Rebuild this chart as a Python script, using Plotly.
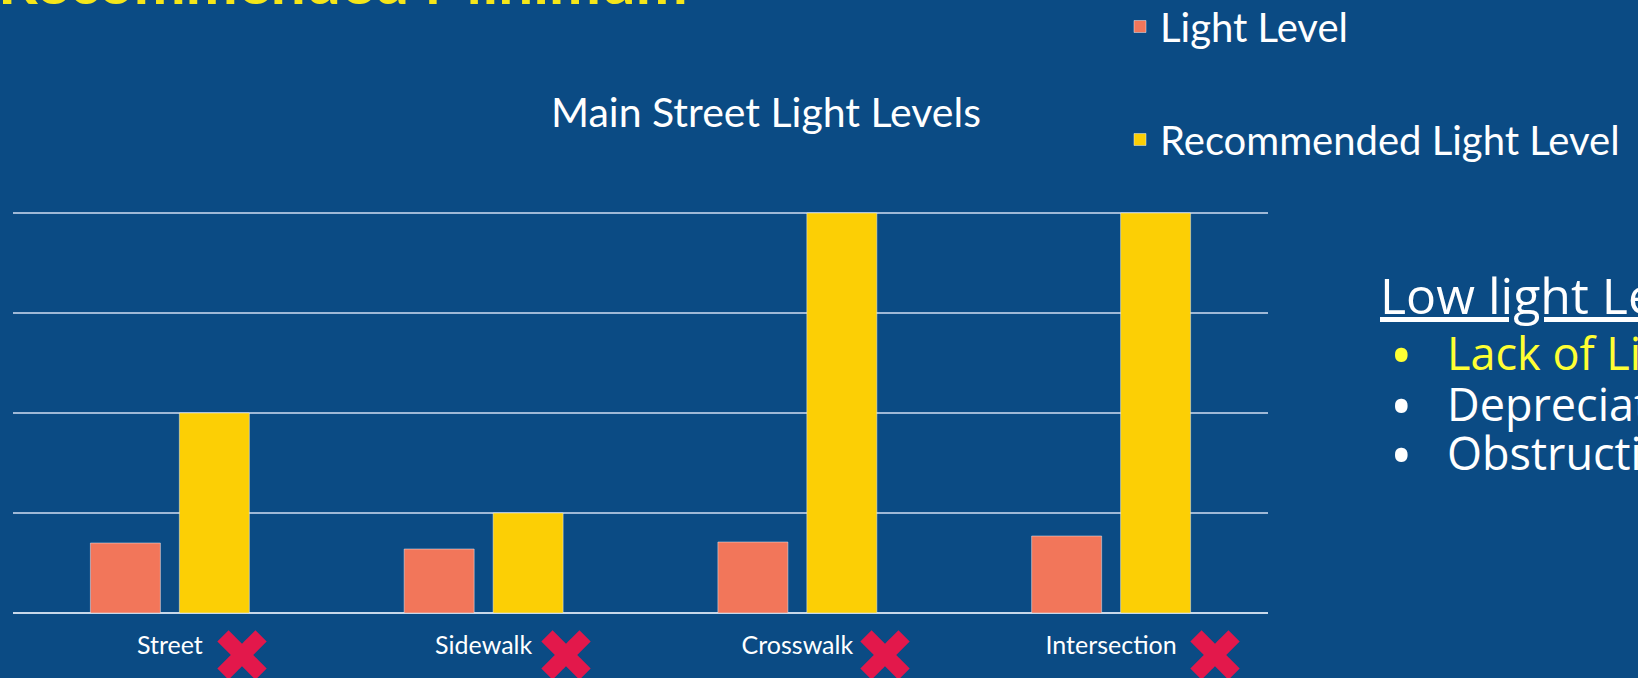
import plotly.graph_objects as go

### data (one grid step = 1 unit)
categories = ["Street", "Sidewalk", "Crosswalk", "Intersection"]
light_level = [0.70, 0.64, 0.71, 0.77]
recommended_level = [2.0, 1.0, 4.0, 4.0]

### styling helpers
bg = "#0b4b84"
font_family = "Lato, Calibri, 'Open Sans', sans-serif"
side_family = "'Open Sans', Lato, sans-serif"
white = "#ffffff"
yellow_txt = "#ffff33"

# plot area in pixels: x 13..1268, y 211..613 (top grid line at 213)
PX_L, PX_W, PX_B, PX_H = 13, 1255, 613, 402


def px(x):
    return (x - PX_L) / PX_W


def py(y):
    return (PX_B - y) / PX_H


trace_light = go.Bar(x=categories, y=light_level, name="Light Level",
                     marker=dict(color="#f2765a"),
                     legendgroup="a", hoverinfo="x+y")
trace_rec = go.Bar(x=categories, y=recommended_level,
                   name="Recommended Light Level",
                   marker=dict(color="#fccf05"),
                   legendgroup="b", hoverinfo="x+y")

### annotations: chart title, red crosses, side notes
annotations = [
    dict(text="Main Street Light Levels", xref="paper", yref="paper",
         x=px(766), y=py(111), xanchor="center", yanchor="middle",
         showarrow=False, font=dict(family=font_family, size=41, color=white)),
    # slide heading, cut off at the top edge of the picture
    dict(text="<b>Recommended Minimum</b>", xref="paper", yref="paper",
         x=px(690), y=py(27), xanchor="right", yanchor="bottom", yshift=8,
         showarrow=False, font=dict(family=font_family, size=62, color="#f5e61a")),
]

for cat in categories:
    annotations.append(dict(
        text="\u2716", xref="x", yref="paper", x=cat, y=py(656),
        xanchor="left", yanchor="middle", xshift=5.2 * len(cat) + 8,
        showarrow=False, font=dict(family="DejaVu Sans", size=74, color="#e3184b")))

# header line (underlined)
annotations.append(dict(
    text="Low light Levels", xref="paper", yref="paper", x=px(1378), y=py(295),
    xanchor="left", yanchor="middle", showarrow=False,
    font=dict(family=side_family, size=50, color=white, lineposition="under")))

bullet_items = ["Lack of Lighting", "Depreciation", "Obstructions"]
bullet_colors = [yellow_txt, white, white]
bullet_y = [352, 403, 452]
for txt, col, ly in zip(bullet_items, bullet_colors, bullet_y):
    annotations.append(dict(
        text="\u2022", xref="paper", yref="paper", x=px(1401), y=py(ly + 2),
        xanchor="center", yanchor="middle", showarrow=False,
        font=dict(family=side_family, size=60, color=col)))
    annotations.append(dict(
        text=txt, xref="paper", yref="paper", x=px(1445), y=py(ly),
        xanchor="left", yanchor="middle", showarrow=False,
        font=dict(family=side_family, size=45, color=col)))

layout = go.Layout(
    width=1638, height=678,
    paper_bgcolor=bg, plot_bgcolor=bg,
    margin=dict(l=PX_L, r=1638 - PX_L - PX_W, t=PX_B - PX_H, b=678 - PX_B,
                autoexpand=False),
    barmode="group", bargap=0.433, bargroupgap=0.213,
    xaxis=dict(showgrid=False, showline=False, zeroline=False, ticks="",
               ticklabelstandoff=15,
               tickfont=dict(family=font_family, size=25, color=white)),
    yaxis=dict(range=[0, 4.02], dtick=1, showgrid=True, gridcolor="#9fb8d6",
               gridwidth=2, zeroline=True, zerolinecolor="#c8d8ea",
               zerolinewidth=2, showticklabels=False, ticks=""),
    showlegend=True,
    legend=dict(x=px(1120), y=py(-6), xanchor="left", yanchor="top",
                traceorder="grouped", tracegroupgap=58,
                bgcolor="rgba(0,0,0,0)",
                font=dict(family=font_family, size=40, color=white)),
    annotations=annotations,
)

fig = go.Figure(data=[trace_light, trace_rec], layout=layout)
fig.write_html("out.html", config={"displayModeBar": False},
               post_script="document.body.style.margin='0px';")
